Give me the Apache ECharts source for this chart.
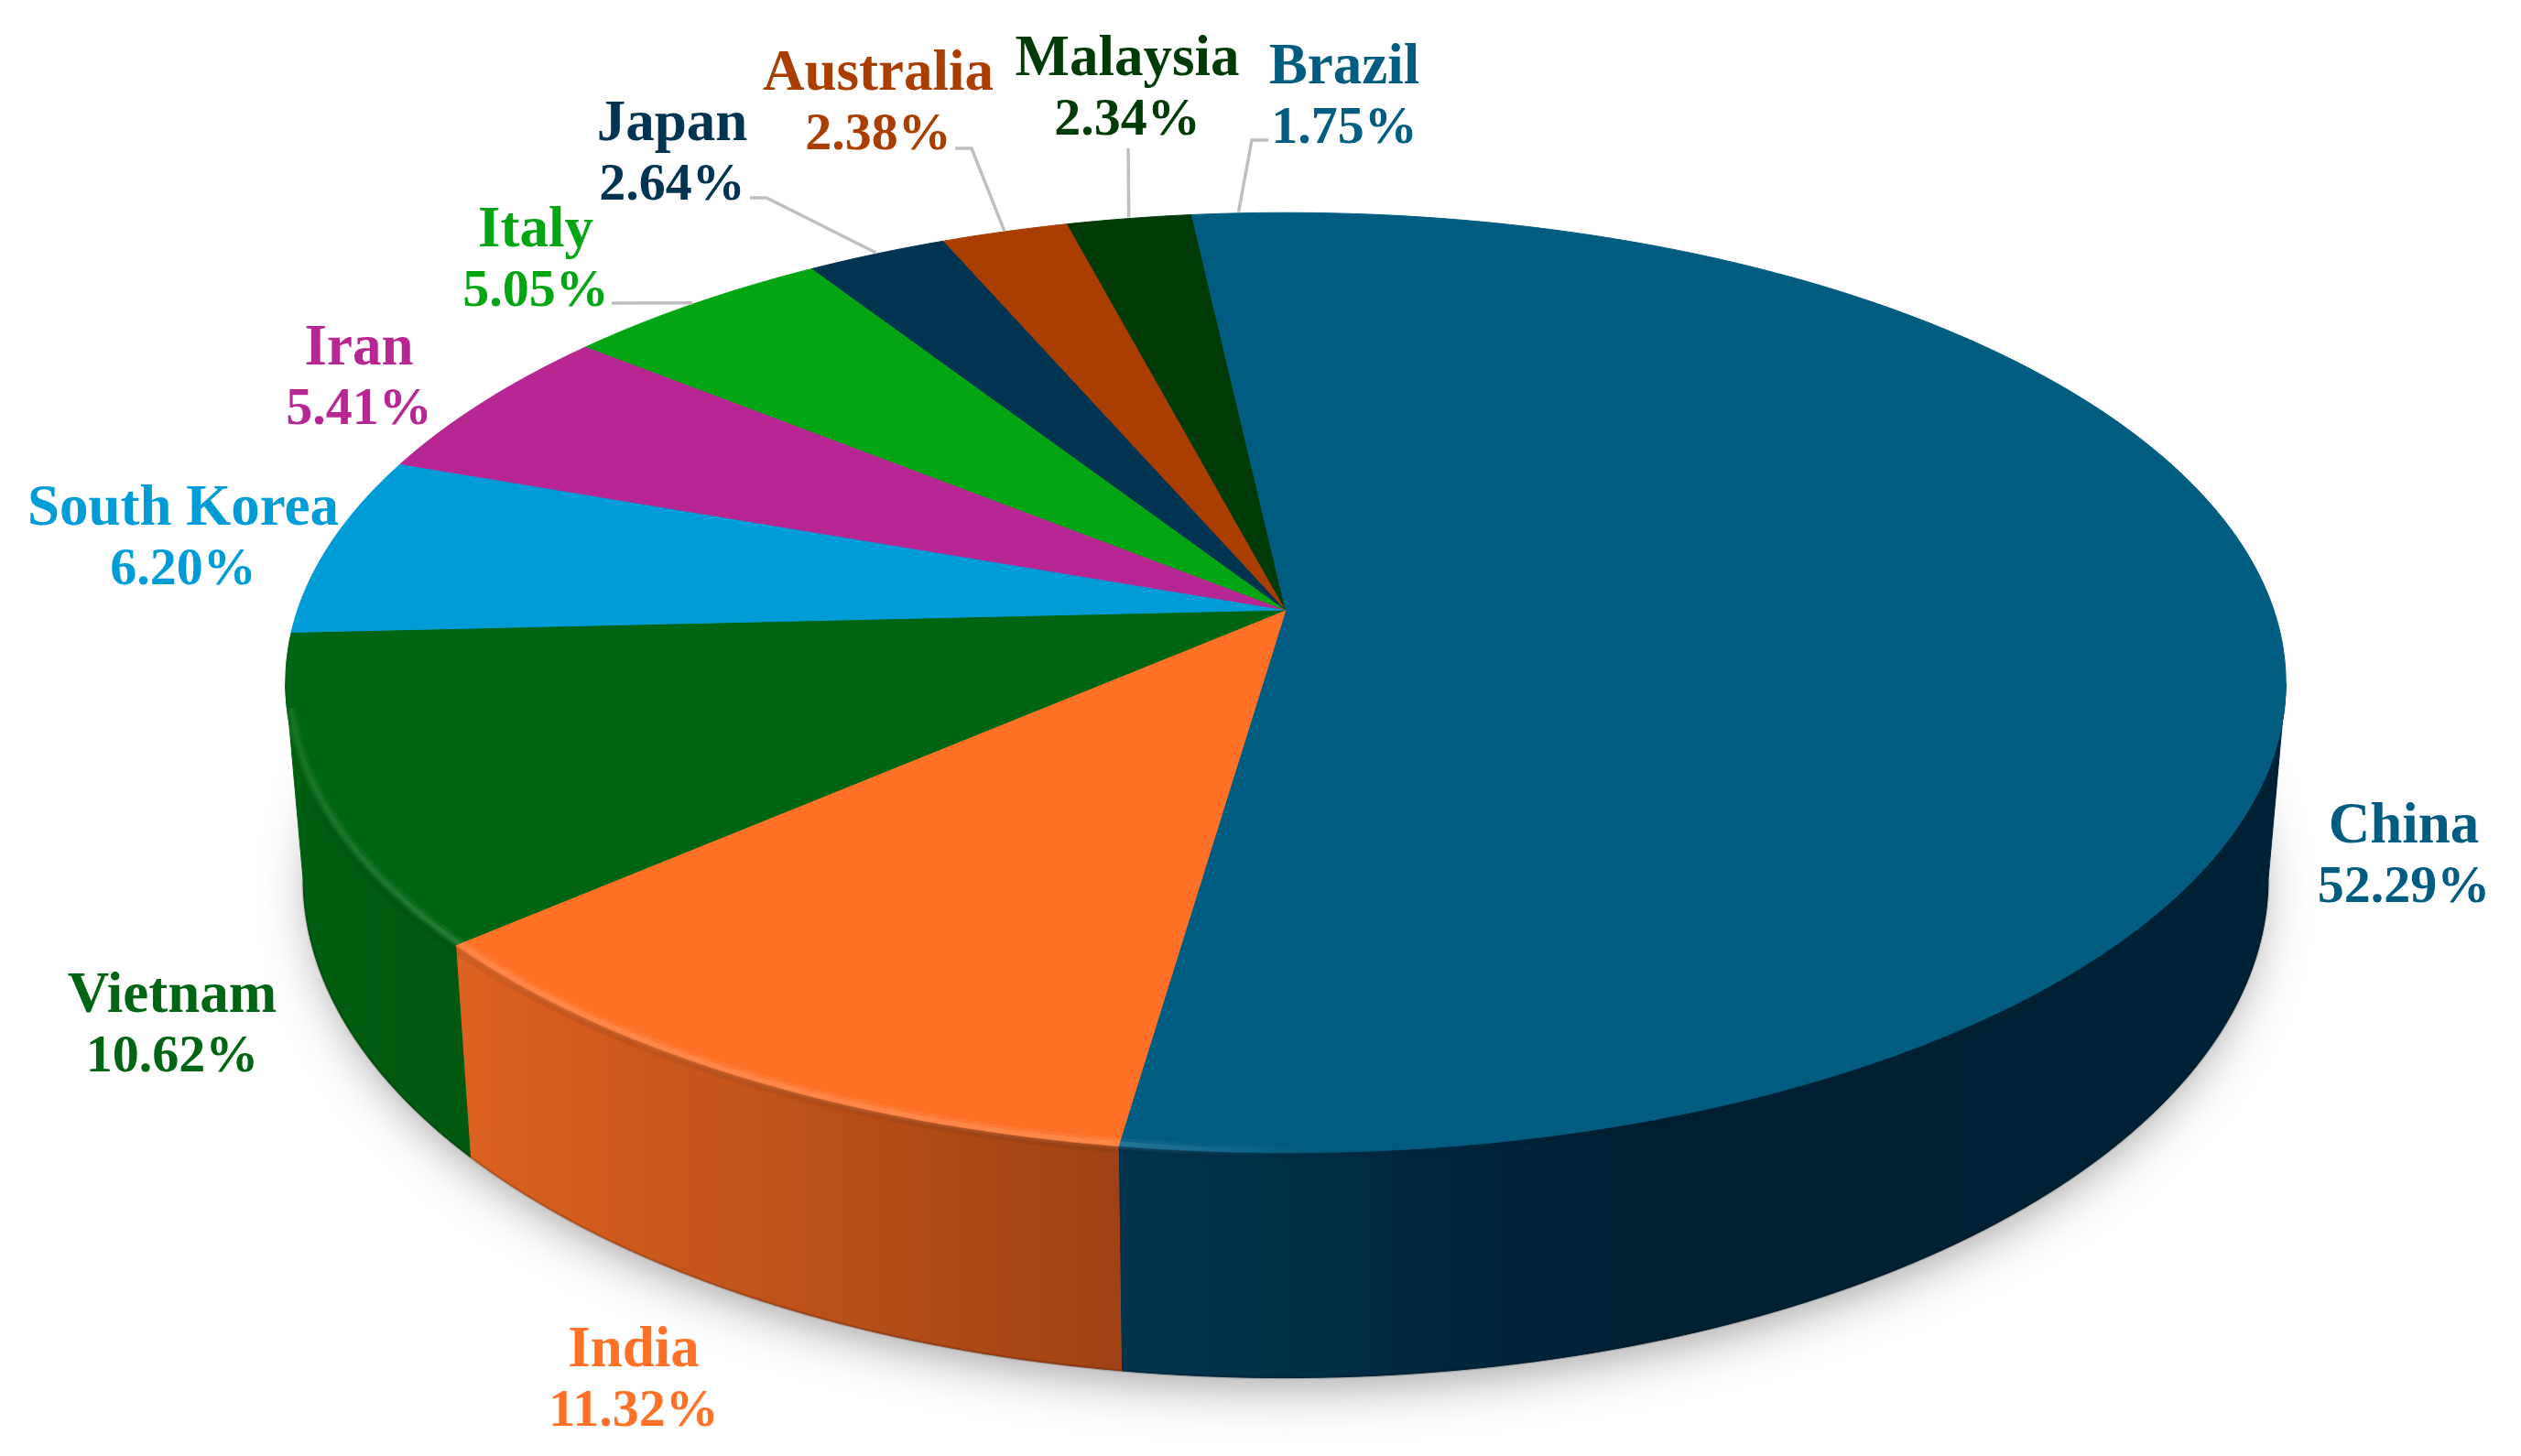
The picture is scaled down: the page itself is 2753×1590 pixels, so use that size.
<!DOCTYPE html>
<html><head><meta charset="utf-8">
<style>html,body{margin:0;padding:0;background:#fff}#c{width:2753px;height:1590px}</style>
<script src="https://cdn.jsdelivr.net/npm/echarts@6/dist/echarts.min.js"></script>
</head><body><div id="c"></div>
<script>
const countries = ['China','India','Vietnam','South Korea','Iran','Italy','Japan','Australia','Malaysia','Brazil'];
const shares = [52.29,11.32,10.62,6.20,5.41,5.05,2.64,2.38,2.34,1.75];
const topColors = ['#005c80','#ff7127','#006512','#009cd8','#b72693','#03a612','#003450','#aa3d00','#003b07','#005c80'];
const textColors = ['#005c80','#ff7127','#006512','#009cd8','#b72693','#03a612','#003450','#aa3d00','#003b07','#005c80'];
// wall gradient stops per slice: [offset along page width, colour]
const wallStops = [
  [[0.44,'#00354f'],[0.55,'#002a42'],[0.65,'#001f33'],[0.92,'#002236']],
  [[0.18,'#dc621f'],[0.44,'#a14214']],
  [[0.12,'#005e10'],[0.18,'#00590f']],
  [[0,'#0085bb'],[1,'#0085bb']],[[0,'#8a1d70'],[1,'#8a1d70']],[[0,'#028a0e'],[1,'#028a0e']],
  [[0,'#002a40'],[1,'#002a40']],[[0,'#8a3000'],[1,'#8a3000']],[[0,'#002e05'],[1,'#002e05']],[[0,'#002a42'],[1,'#002a42']]
];
// label layout
const labelCenters = [[2625,937],[692,1509],[188,1122],[200,590],[392,415],[585,286],[734,170],[959,115],[1231,99],[1468,108]];
const labelElbows = [null,null,null,null,null,[[668,331]],[[819,216],[837,216]],[[1043,162],[1061,162]],[[1232,162]],[[1385,153],[1367,153]]];

const W = 2753, NAME_SIZE = 63, PCT_SIZE = 58, LINE_H = 67;
const TOP = {x0:1404, y0:666, A:1079, B:501, k:-0.155};
const BOT = {x0:1404, y0:875, A:1060, B:532, k:-0.155};
const WALL_FROM = 99, WALL_TO = 261;
const total = shares.reduce((a,b)=>a+b,0);
const cum = []; shares.reduce((s,v,i)=>{cum[i]=s; return s+v;},0);
const toAngle = v => echarts.number.linearMap(v,[0,total],[0,360]);

function proj(g, deg, r){
  const t = deg*Math.PI/180, u = r*Math.sin(t), v = -r*Math.cos(t), d = 1+g.k*v;
  return [g.x0+g.A*u/d, g.y0+g.B*v/d];
}
function arc(g, a0, a1, r){
  const pts=[], n=Math.max(2,Math.ceil(Math.abs(a1-a0)));
  for(let i=0;i<=n;i++) pts.push(proj(g,a0+(a1-a0)*i/n,r));
  return pts;
}
const hGrad = stops => ({type:'linear',x:0,y:0,x2:W,y2:0,global:true,
  colorStops:stops.map(s=>({offset:s[0],color:s[1]}))});
const rows = shares.map((v,i)=>[i,v]);

const series = [
 { // soft ground shadow
  type:'custom',coordinateSystem:'none',z:1,silent:true,data:[[0,total]],
  renderItem(){return {type:'polygon',shape:{points:arc(BOT,0,360,0.99)},
    style:{fill:'#bbb',shadowColor:'rgba(0,0,0,0.38)',shadowBlur:55,shadowOffsetX:0,shadowOffsetY:16}};}
 },
 { // side walls
  type:'custom',coordinateSystem:'none',z:2,silent:true,data:rows,
  renderItem(p,api){
    const i=api.value(0), a0=toAngle(cum[i]), a1=toAngle(cum[i]+api.value(1));
    const s=Math.max(a0,WALL_FROM), e=Math.min(a1,WALL_TO);
    if(e<=s) return {type:'group',children:[]};
    const pts=arc(TOP,s,e,1).concat(arc(BOT,s,e,1).reverse());
    return {type:'group',children:[
      {type:'polygon',shape:{points:pts},style:{fill:hGrad(wallStops[i]),stroke:hGrad(wallStops[i]),lineWidth:1}},
      {type:'polyline',shape:{points:arc(BOT,s,e,1)},style:{fill:'none',stroke:'rgba(0,0,0,0.16)',lineWidth:3}}
    ]};
  }
 },
 { // top faces
  type:'custom',coordinateSystem:'none',z:3,silent:true,data:rows,
  renderItem(p,api){
    const i=api.value(0), a0=toAngle(cum[i]), a1=toAngle(cum[i]+api.value(1));
    const pts=[[TOP.x0,TOP.y0]].concat(arc(TOP,a0,a1,1));
    return {type:'polygon',shape:{points:pts},style:{fill:topColors[i],stroke:topColors[i],lineWidth:1}};
  }
 },
 { // rim bevel
  type:'custom',coordinateSystem:'none',z:4,silent:true,data:[[0,total]],
  renderItem(){return {type:'group',children:[
    {type:'polyline',shape:{points:arc(TOP,112,248,1.005)},
     style:{fill:'none',lineWidth:8,stroke:'rgba(0,20,30,0.06)'}},
    {type:'polyline',shape:{points:arc(TOP,170,WALL_TO-3,0.996)},
     style:{fill:'none',lineWidth:12,stroke:hGrad([[0.11,'rgba(255,255,255,0.03)'],[0.2,'rgba(255,255,255,0.06)'],[0.44,'rgba(255,255,255,0.06)'],[0.52,'rgba(255,255,255,0)']])}},
    {type:'polyline',shape:{points:arc(TOP,170,WALL_TO-3,0.996)},
     style:{fill:'none',lineWidth:5,stroke:hGrad([[0.11,'rgba(255,255,255,0.05)'],[0.2,'rgba(255,255,255,0.10)'],[0.44,'rgba(255,255,255,0.10)'],[0.52,'rgba(255,255,255,0)']])}}
  ]};}
 },
 { // labels and leaders
  type:'custom',coordinateSystem:'none',z:5,silent:true,data:rows,
  renderItem(p,api){
    const i=api.value(0), v=api.value(1), mid=toAngle(cum[i]+v/2), children=[];
    if(labelElbows[i]){
      children.push({type:'polyline',shape:{points:labelElbows[i].concat([proj(TOP,mid,1.003)])},
        style:{fill:'none',stroke:'#bfbfbf',lineWidth:3.5}});
    }
    const base={x:labelCenters[i][0],align:'center',verticalAlign:'middle',fill:textColors[i],
      fontFamily:'"Liberation Serif"',fontWeight:'bold'};
    children.push({type:'text',style:Object.assign({},base,{text:countries[i],y:labelCenters[i][1]-LINE_H/2,fontSize:NAME_SIZE})});
    children.push({type:'text',style:Object.assign({},base,{text:v.toFixed(2)+'%',y:labelCenters[i][1]+LINE_H/2,fontSize:PCT_SIZE})});
    return {type:'group',children};
  }
 }
];
const chart = echarts.init(document.getElementById('c'),null,{renderer:'canvas'});
chart.setOption({animation:false,backgroundColor:'#ffffff',series});
</script></body></html>
